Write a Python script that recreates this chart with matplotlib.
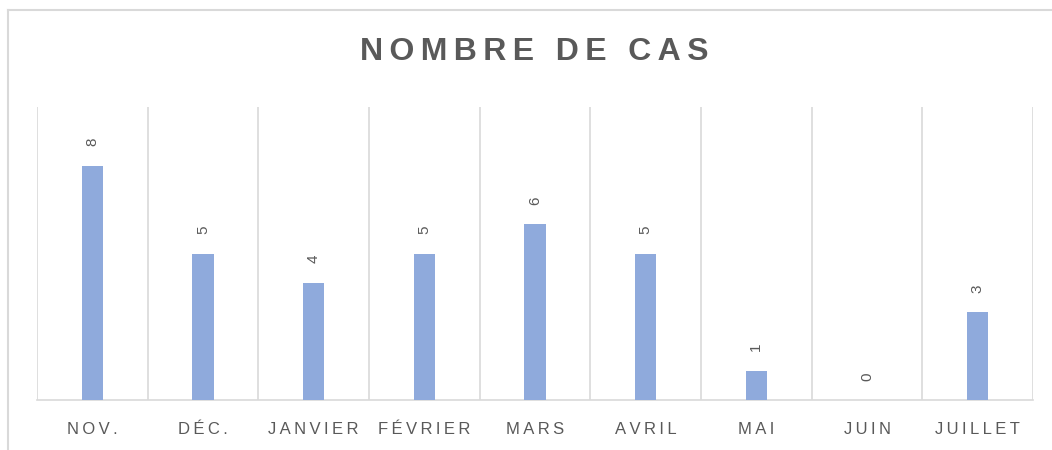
import matplotlib.pyplot as plt
from matplotlib.lines import Line2D

months = ['NOV.', 'DÉC.', 'JANVIER', 'FÉVRIER', 'MARS', 'AVRIL', 'MAI', 'JUIN', 'JUILLET']
cases = [8, 5, 4, 5, 6, 5, 1, 0, 3]

grey = '#595959'
line_col = '#D9D9D9'
fam = ['Liberation Sans', 'DejaVu Sans']


def spaced(s, n=1):
    # fake letter spacing with thin spaces
    return ('\u2009' * n).join(s)


fig = plt.figure(figsize=(10.52, 4.5), dpi=100)
ax = fig.add_axes([37 / 1052, 50 / 450, 996 / 1052, 293 / 450])

x = list(range(len(months)))
ax.bar(x, cases, width=0.19, color='#8FAADC', zorder=3)

for xi, v in zip(x, cases):
    ax.annotate(str(v), (xi, v), xytext=(0, 14), textcoords='offset points',
                rotation=90, ha='center', va='bottom', color=grey,
                fontsize=11, family=fam)

ax.set_xlim(-0.5, len(months) - 0.5)
ax.set_ylim(0, 10)
ax.set_yticks([])
ax.set_xticks(x)
ax.set_xticklabels([spaced(m, 1) for m in months], family=fam, fontsize=12, color=grey)
ax.tick_params(axis='x', length=0, pad=16)

# category separators
for b in range(len(months) + 1):
    ax.axvline(b - 0.5, color=line_col, lw=1.2, zorder=1)

for s in ['top', 'left', 'right']:
    ax.spines[s].set_visible(False)
ax.spines['bottom'].set_color(line_col)
ax.spines['bottom'].set_linewidth(1.2)

# chart frame (only top and left edges are in view)
fig.add_artist(Line2D([8 / 1052, 8 / 1052], [0, 1 - 10 / 450], color=line_col, lw=1.5,
                      transform=fig.transFigure))
fig.add_artist(Line2D([8 / 1052, 1], [1 - 10 / 450, 1 - 10 / 450], color=line_col, lw=1.5,
                      transform=fig.transFigure))

fig.text(534 / 1052, 1 - 52 / 450, spaced('NOMBRE DE CAS', 1), ha='center', va='center',
         fontsize=23, fontweight='bold', color=grey, family=fam)

fig.savefig('out.png', dpi=100)
